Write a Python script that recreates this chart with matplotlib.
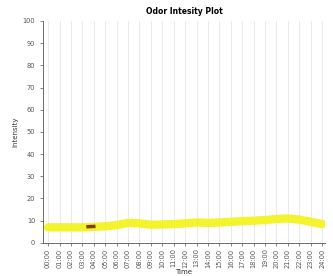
import matplotlib
matplotlib.use("Agg")
import matplotlib.pyplot as plt
import numpy as np

hours = [f"{h:02d}:00" for h in range(25)]
intensity = [7.0, 7.0, 7.0, 7.0, 7.2, 7.5, 8.0, 9.0, 8.8, 8.2, 8.3, 8.5, 8.8,
             9.2, 9.0, 9.2, 9.5, 9.8, 10.0, 10.3, 10.8, 11.0, 10.5, 9.5, 8.5]
marker_idx = [3.5, 4.0]
marker_val = [7.3, 7.4]

fig = plt.figure(figsize=(3.33, 2.76), dpi=100)
ax = fig.add_axes([0.129, 0.12, 0.847, 0.804])
x = np.arange(len(hours))
ax.plot(x, intensity, color="#f2f21c", lw=6, solid_capstyle="round", alpha=0.92)
ax.plot(marker_idx, marker_val, color="#8b3a1a", lw=2.5)
ax.set_xlim(-0.45, 24.25)
ax.set_ylim(0, 100)
ax.set_yticks(range(0, 101, 10))
ax.set_xticks(x)
ax.set_xticklabels(hours, rotation=90, fontsize=4.8, color="#555555")
ax.tick_params(axis="y", labelsize=4.8, colors="#555555", length=2, width=0.5)
ax.tick_params(axis="x", length=2, width=0.5, colors="#555555", pad=2)
ax.grid(axis="x", color="#e6e6e6", lw=0.6)
ax.set_axisbelow(True)
for s in ["top", "right"]:
    ax.spines[s].set_visible(False)
for s in ["left", "bottom"]:
    ax.spines[s].set_color("#555555")
    ax.spines[s].set_linewidth(0.6)
ax.set_title("Odor Intesity Plot", fontsize=5.5, fontweight="bold", pad=5)
ax.set_xlabel("Time", fontsize=5, labelpad=1, color="#333333")
ax.set_ylabel("Intensity", fontsize=5, labelpad=3, color="#333333")
fig.savefig("out.png", dpi=100)
